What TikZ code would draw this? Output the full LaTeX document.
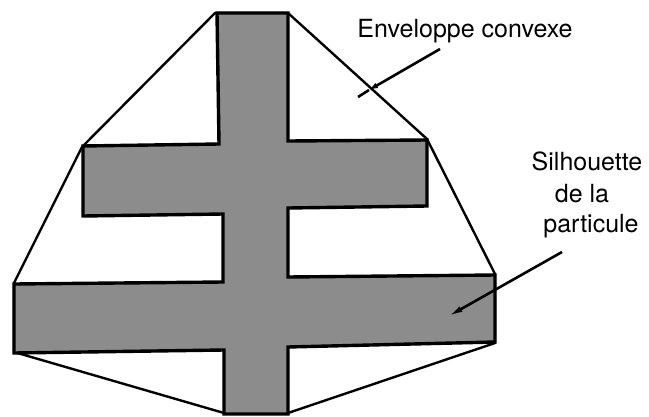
\documentclass[tikz,border=0pt]{standalone}
\usepackage{fontspec}
\setmainfont{TeX Gyre Heros}
\usetikzlibrary{arrows.meta}
\begin{document}
\begin{tikzpicture}[x=1pt,y=-1pt,
  hull/.style={line width=2.4pt, line join=round},
  crossshape/.style={draw=black, line width=3.4pt, fill=black!45, line join=miter},
  lbl/.style={inner sep=0pt, anchor=base, font=\fontsize{25}{30}\selectfont},
  pointer/.style={line width=2.6pt}]
\useasboundingbox (0,0) rectangle (649,416);
% convex hull
\draw[hull] (215,13) -- (82,147) -- (14,283) -- (14,352) -- (224,413) -- (288,413)
  -- (495,343) -- (495,274) -- (427,139) -- (288,13) -- cycle;
% particle silhouette (double cross)
\draw[crossshape] (217,13) -- (288,13) -- (288,141) -- (427,140) -- (427,206)
  -- (288,208) -- (288,277) -- (495,275) -- (495,342) -- (288,347) -- (288,414)
  -- (224,414) -- (224,350) -- (14,353) -- (14,284) -- (223,282) -- (223,214)
  -- (83,216) -- (83,146) -- (219,144) -- cycle;
% labels
\node[lbl] (env) at (465,37) {Enveloppe convexe};
\node[lbl] (sil1) at (587,170) {Silhouette};
\node[lbl] (sil2) at (582,202) {de la};
\node[lbl] (sil3) at (591,232) {particule};
% pointers
\coordinate (envS) at (440,49);
\coordinate (envT) at (369,90);
\coordinate (envE) at (358,97);
\draw[pointer,-{Latex[length=9pt,width=6pt]}] (envS) -- (envT);
\draw[pointer] (envT) -- (envE);
\coordinate (silS) at (562,252);
\coordinate (silT) at (447,317);
\draw[pointer,-{Latex[length=16pt,width=6pt]}] (silS) -- (silT);
\end{tikzpicture}
\end{document}
